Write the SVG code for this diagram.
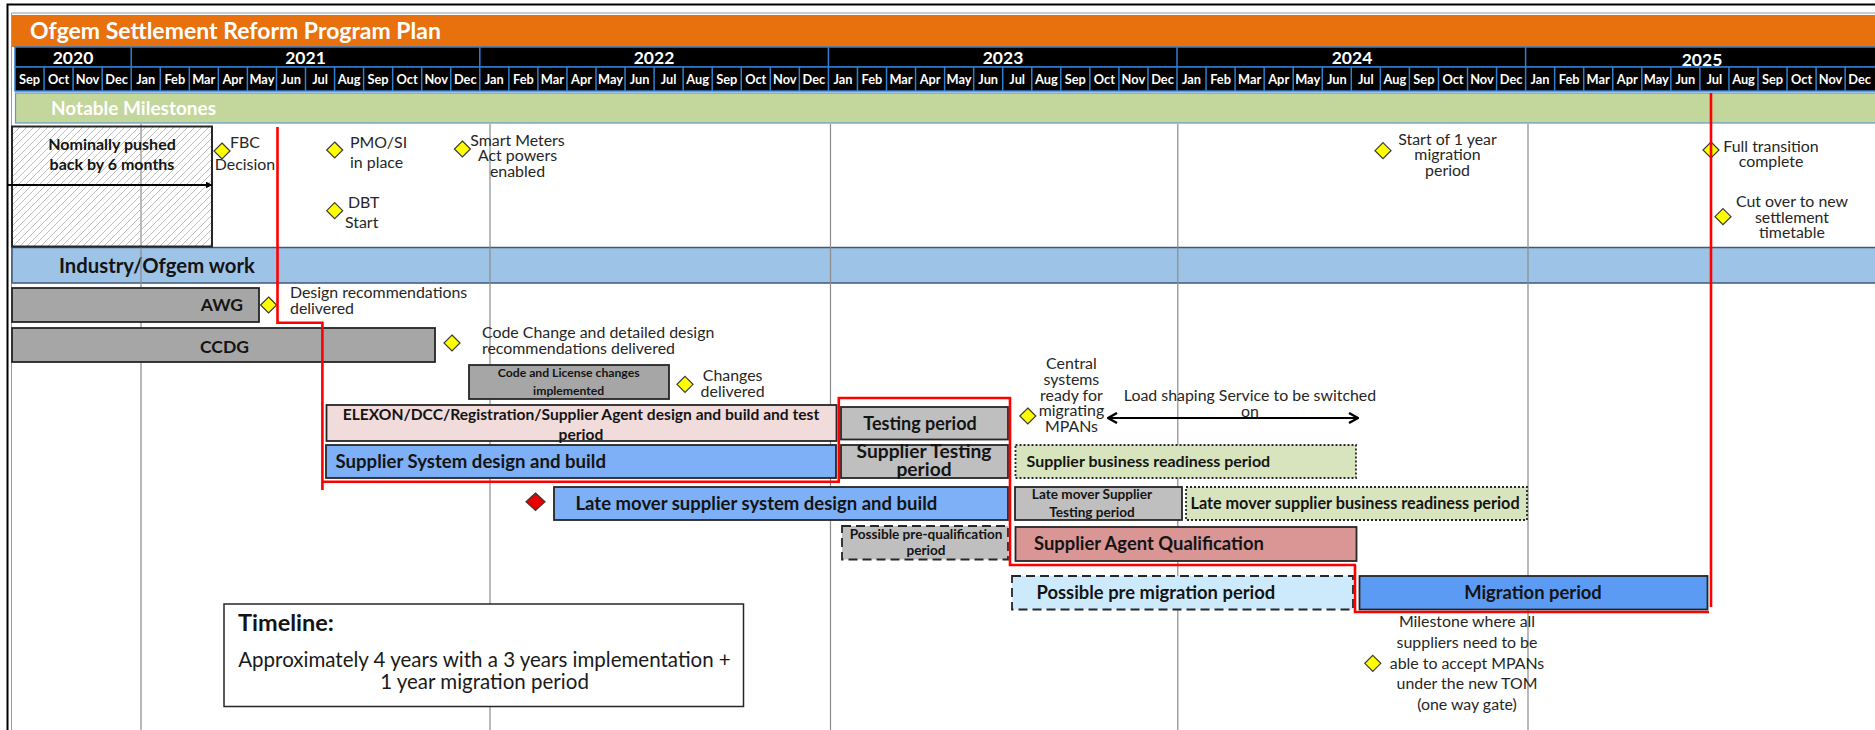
<svg xmlns="http://www.w3.org/2000/svg" width="1875" height="730" viewBox="0 0 1875 730">
<style>
text{font-family:Lato,"Liberation Sans",sans-serif;}
.hd{fill:#fff;font-weight:bold;}
.mo{fill:#fff;font-weight:bold;font-size:12.8px;text-anchor:middle;}
.yr{fill:#fff;font-weight:bold;font-size:17.5px;text-anchor:middle;}
.ms{fill:#262626;font-size:15.9px;}
.mid{text-anchor:middle;}
.b{font-weight:bold;fill:#141414;}
.bar{stroke:#262626;stroke-width:1.8;}
.g1{fill:#a6a6a6;}
.g2{fill:#bfbfbf;}
.blue{fill:#7eb0f7;}
.dia{fill:#ffff00;stroke:#3a3a3a;stroke-width:1.2;}
.grid{stroke:#8c8c8c;stroke-width:1.2;}
.red{fill:none;stroke:#ff0000;stroke-width:2.6;}
.dot{stroke-dasharray:2 2;}
.dash{stroke-dasharray:9 5;}
</style>
<defs>
<pattern id="hatch" patternUnits="userSpaceOnUse" width="7" height="7">
<path d="M-1,1 l2,-2 M0,7 l7,-7 M6,8 l2,-2" stroke="#b4b4b4" stroke-width="0.9"/>
</pattern>
<marker id="tri" viewBox="0 0 10 10" refX="9" refY="5" markerWidth="7" markerHeight="7" markerUnits="userSpaceOnUse" orient="auto">
<path d="M0,0 L10,5 L0,10 z" fill="#000"/>
</marker>
<marker id="chev" viewBox="0 0 12 12" refX="11" refY="6" markerWidth="12" markerHeight="12" markerUnits="userSpaceOnUse" orient="auto-start-reverse">
<path d="M2,1 L11,6 L2,11" fill="none" stroke="#000" stroke-width="2.4"/>
</marker>
</defs>
<rect width="1875" height="730" fill="#fff"/>

<!-- frame -->
<path d="M7.5,730 V4.5 H1875" fill="none" stroke="#000" stroke-width="2"/>
<path d="M11.5,730 V13 H1875" fill="none" stroke="#9a9a9a" stroke-width="1"/>

<!-- header -->
<g id="title">
<rect x="12" y="15" width="1863" height="32" fill="#e8710e"/>
<text class="hd" x="30" y="39" font-size="23">Ofgem Settlement Reform Program Plan</text>
</g>
<g id="years">
<rect x="15" y="47" width="1862" height="20" fill="#000" stroke="#2f7fd0" stroke-width="1.5"/>
<path d="M131.2,47v20 M479.8,47v20 M828.4,47v20 M1177,47v20 M1525.6,47v20" stroke="#2f7fd0" stroke-width="1.5"/>
<text class="yr" x="73" y="63.5">2020</text>
<text class="yr" x="305.5" y="63.5">2021</text>
<text class="yr" x="654" y="63.5">2022</text>
<text class="yr" x="1003" y="63.5">2023</text>
<text class="yr" x="1352" y="63.5">2024</text>
<text class="yr" x="1702" y="65.5">2025</text>
</g>
<g id="months">
<rect x="15" y="67" width="1862" height="24" fill="#000" stroke="#2f7fd0" stroke-width="1.5"/>
<path d="M44.05,67v24 M73.1,67v24 M102.15,67v24 M131.2,67v24 M160.25,67v24 M189.3,67v24 M218.35,67v24 M247.4,67v24 M276.45,67v24 M305.5,67v24 M334.55,67v24 M363.6,67v24 M392.65,67v24 M421.7,67v24 M450.75,67v24 M479.8,67v24 M508.85,67v24 M537.9,67v24 M566.95,67v24 M596,67v24 M625.05,67v24 M654.1,67v24 M683.15,67v24 M712.2,67v24 M741.25,67v24 M770.3,67v24 M799.35,67v24 M828.4,67v24 M857.45,67v24 M886.5,67v24 M915.55,67v24 M944.6,67v24 M973.65,67v24 M1002.7,67v24 M1031.75,67v24 M1060.8,67v24 M1089.85,67v24 M1118.9,67v24 M1147.95,67v24 M1177,67v24 M1206.05,67v24 M1235.1,67v24 M1264.15,67v24 M1293.2,67v24 M1322.25,67v24 M1351.3,67v24 M1380.35,67v24 M1409.4,67v24 M1438.45,67v24 M1467.5,67v24 M1496.55,67v24 M1525.6,67v24 M1554.65,67v24 M1583.7,67v24 M1612.75,67v24 M1641.8,67v24 M1670.85,67v24 M1699.9,67v24 M1728.95,67v24 M1758,67v24 M1787.05,67v24 M1816.1,67v24 M1845.15,67v24" stroke="#2f7fd0" stroke-width="1.5"/>
<text class="mo" x="29.5" y="84">Sep</text><text class="mo" x="58.6" y="84">Oct</text><text class="mo" x="87.6" y="84">Nov</text><text class="mo" x="116.7" y="84">Dec</text>
<text class="mo" x="145.7" y="84">Jan</text><text class="mo" x="174.8" y="84">Feb</text><text class="mo" x="203.8" y="84">Mar</text><text class="mo" x="232.9" y="84">Apr</text><text class="mo" x="261.9" y="84">May</text><text class="mo" x="291" y="84">Jun</text><text class="mo" x="320" y="84">Jul</text><text class="mo" x="349.1" y="84">Aug</text><text class="mo" x="378.1" y="84">Sep</text><text class="mo" x="407.2" y="84">Oct</text><text class="mo" x="436.2" y="84">Nov</text><text class="mo" x="465.3" y="84">Dec</text>
<text class="mo" x="494.3" y="84">Jan</text><text class="mo" x="523.4" y="84">Feb</text><text class="mo" x="552.4" y="84">Mar</text><text class="mo" x="581.5" y="84">Apr</text><text class="mo" x="610.5" y="84">May</text><text class="mo" x="639.6" y="84">Jun</text><text class="mo" x="668.6" y="84">Jul</text><text class="mo" x="697.7" y="84">Aug</text><text class="mo" x="726.7" y="84">Sep</text><text class="mo" x="755.8" y="84">Oct</text><text class="mo" x="784.8" y="84">Nov</text><text class="mo" x="813.9" y="84">Dec</text>
<text class="mo" x="842.9" y="84">Jan</text><text class="mo" x="872" y="84">Feb</text><text class="mo" x="901" y="84">Mar</text><text class="mo" x="930.1" y="84">Apr</text><text class="mo" x="959.1" y="84">May</text><text class="mo" x="988.2" y="84">Jun</text><text class="mo" x="1017.2" y="84">Jul</text><text class="mo" x="1046.3" y="84">Aug</text><text class="mo" x="1075.3" y="84">Sep</text><text class="mo" x="1104.4" y="84">Oct</text><text class="mo" x="1133.4" y="84">Nov</text><text class="mo" x="1162.5" y="84">Dec</text>
<text class="mo" x="1191.5" y="84">Jan</text><text class="mo" x="1220.6" y="84">Feb</text><text class="mo" x="1249.6" y="84">Mar</text><text class="mo" x="1278.7" y="84">Apr</text><text class="mo" x="1307.7" y="84">May</text><text class="mo" x="1336.8" y="84">Jun</text><text class="mo" x="1365.8" y="84">Jul</text><text class="mo" x="1394.9" y="84">Aug</text><text class="mo" x="1423.9" y="84">Sep</text><text class="mo" x="1453" y="84">Oct</text><text class="mo" x="1482" y="84">Nov</text><text class="mo" x="1511.1" y="84">Dec</text>
<text class="mo" x="1540.1" y="84">Jan</text><text class="mo" x="1569.2" y="84">Feb</text><text class="mo" x="1598.2" y="84">Mar</text><text class="mo" x="1627.3" y="84">Apr</text><text class="mo" x="1656.3" y="84">May</text><text class="mo" x="1685.4" y="84">Jun</text><text class="mo" x="1714.4" y="84">Jul</text><text class="mo" x="1743.5" y="84">Aug</text><text class="mo" x="1772.5" y="84">Sep</text><text class="mo" x="1801.6" y="84">Oct</text><text class="mo" x="1830.6" y="84">Nov</text><text class="mo" x="1859.7" y="84">Dec</text>
</g>
<g id="notable-milestones">
<rect x="15.5" y="93" width="1862" height="30" fill="#c3d69b" stroke="#5b9bd5" stroke-width="1.2"/>
<text class="hd" x="51" y="114.5" font-size="19">Notable Milestones</text>
</g>
<g id="industry-band">
<rect x="12" y="247.5" width="1865" height="35.5" fill="#9dc3e6" stroke="#41587a" stroke-width="1.5"/>
<text class="b" x="59" y="273" font-size="20.3" fill="#1a1a1a">Industry/Ofgem work</text>
</g>

<!-- grid lines -->
<g id="gridlines">
<path class="grid" d="M141,124V730 M490,124V730 M830.5,124V730 M1177.8,124V730 M1528,124V730"/>
</g>

<!-- nodes -->
<g id="pushed-back">
<rect x="12" y="126.5" width="200" height="120" fill="url(#hatch)" stroke="#262626" stroke-width="2"/>
<text class="b mid" x="112" y="149.5" font-size="16">Nominally pushed</text>
<text class="b mid" x="112" y="169.5" font-size="16">back by 6 months</text>
</g>
<g id="ms-fbc">
<path class="dia" d="M222,143 l8,8 l-8,8 l-8,-8z"/>
<text class="ms mid" x="245" y="148">FBC</text>
<text class="ms mid" x="245" y="170">Decision</text>
</g>
<g id="ms-pmo">
<path class="dia" d="M334.7,142 l8,8 l-8,8 l-8,-8z"/>
<text class="ms" x="350" y="148">PMO/SI</text>
<text class="ms" x="350" y="168">in place</text>
</g>
<g id="ms-dbt">
<path class="dia" d="M334.7,202.7 l8,8 l-8,8 l-8,-8z"/>
<text class="ms" x="348" y="208">DBT</text>
<text class="ms" x="345" y="228">Start</text>
</g>
<g id="ms-smart">
<path class="dia" d="M462.4,141 l8,8 l-8,8 l-8,-8z"/>
<text class="ms mid" x="517.5" y="145.5">Smart Meters</text>
<text class="ms mid" x="517.5" y="161">Act powers</text>
<text class="ms mid" x="517.5" y="176.5">enabled</text>
</g>
<g id="ms-start-migration">
<path class="dia" d="M1383,142.7 l8,8 l-8,8 l-8,-8z"/>
<text class="ms mid" x="1447.5" y="144.5">Start of 1 year</text>
<text class="ms mid" x="1447.5" y="160">migration</text>
<text class="ms mid" x="1447.5" y="175.5">period</text>
</g>
<g id="ms-full-transition">
<path class="dia" d="M1711,142 l8,8 l-8,8 l-8,-8z"/>
<text class="ms mid" x="1771" y="151.5">Full transition</text>
<text class="ms mid" x="1771" y="167">complete</text>
</g>
<g id="ms-cutover">
<path class="dia" d="M1723,208.7 l8,8 l-8,8 l-8,-8z"/>
<text class="ms mid" x="1792" y="206.5">Cut over to new</text>
<text class="ms mid" x="1792" y="222.5">settlement</text>
<text class="ms mid" x="1792" y="238">timetable</text>
</g>
<g id="awg">
<rect class="bar g1" x="12" y="288" width="247" height="34"/>
<text class="b" x="243" y="311" font-size="17.5" text-anchor="end">AWG</text>
</g>
<g id="ms-design-rec">
<path class="dia" d="M268.6,297 l8,8 l-8,8 l-8,-8z"/>
<text class="ms" x="290" y="298">Design recommendations</text>
<text class="ms" x="290" y="313.5">delivered</text>
</g>
<g id="ccdg">
<rect class="bar g1" x="12" y="328" width="423" height="34"/>
<text class="b mid" x="224.5" y="352.5" font-size="17.5">CCDG</text>
</g>
<g id="ms-code-change">
<path class="dia" d="M452,335 l8,8 l-8,8 l-8,-8z"/>
<text class="ms" x="482" y="338">Code Change and detailed design</text>
<text class="ms" x="482" y="353.5">recommendations delivered</text>
</g>
<g id="code-license">
<rect class="bar g1" x="469" y="365" width="200" height="34"/>
<text class="b mid" x="568.7" y="377" font-size="12.2">Code and License changes</text>
<text class="b mid" x="568.7" y="395" font-size="12.2">implemented</text>
</g>
<g id="ms-changes">
<path class="dia" d="M685,376.3 l8,8 l-8,8 l-8,-8z"/>
<text class="ms mid" x="732.6" y="381">Changes</text>
<text class="ms mid" x="732.6" y="396.5">delivered</text>
</g>
<g id="elexon">
<rect class="bar" x="326.5" y="405" width="510" height="36" fill="#f2dcdb"/>
<text class="b mid" x="581" y="419.5" font-size="15.6">ELEXON/DCC/Registration/Supplier Agent  design and build and test</text>
<text class="b mid" x="581" y="439.5" font-size="15.6">period</text>
</g>
<g id="testing">
<rect class="bar g2" x="841" y="407" width="167" height="32.5"/>
<text class="b mid" x="920" y="430" font-size="18">Testing period</text>
</g>
<g id="ms-central">
<path class="dia" d="M1027.8,408 l8,8 l-8,8 l-8,-8z"/>
<text class="ms mid" x="1071.4" y="369">Central</text>
<text class="ms mid" x="1071.4" y="385">systems</text>
<text class="ms mid" x="1071.4" y="400.5">ready for</text>
<text class="ms mid" x="1071.4" y="416">migrating</text>
<text class="ms mid" x="1071.4" y="431.5">MPANs</text>
</g>
<g id="load-shaping">
<text class="ms mid" x="1250" y="401">Load shaping Service to be switched</text>
<text class="ms mid" x="1250" y="416.5">on</text>
</g>
<g id="supplier-system">
<rect class="bar blue" x="326" y="445" width="510" height="33"/>
<text class="b" x="335.5" y="468" font-size="18.6">Supplier System design and build</text>
</g>
<g id="supplier-testing">
<rect class="bar g2" x="841" y="445" width="167" height="33"/>
<text class="b mid" x="924" y="458" font-size="19.2">Supplier Testing</text>
<text class="b mid" x="924" y="476" font-size="19.2">period</text>
</g>
<g id="supplier-readiness">
<rect class="bar dot" x="1015.5" y="445" width="340.5" height="33" fill="#d7e4bd"/>
<text class="b" x="1026.5" y="467" font-size="16">Supplier business readiness period</text>
</g>
<g id="ms-late-mover">
<path d="M535.5,493 l9.5,8.7 l-9.5,8.7 l-9.5,-8.7z" fill="#e80000" stroke="#3a3a3a" stroke-width="1.2"/>
</g>
<g id="late-mover-build">
<rect class="bar blue" x="554" y="487" width="454" height="33"/>
<text class="b" x="575.5" y="509.5" font-size="18.5">Late mover supplier system design and build</text>
</g>
<g id="late-mover-testing">
<rect class="bar g2" x="1015" y="487" width="167" height="33"/>
<text class="b mid" x="1092" y="499" font-size="13.6">Late mover Supplier</text>
<text class="b mid" x="1092" y="517" font-size="13.6">Testing period</text>
</g>
<g id="late-mover-readiness">
<rect class="bar dot" x="1186" y="487" width="341" height="33" fill="#d7e4bd"/>
<text class="b" x="1190.5" y="508.5" font-size="16.2">Late mover supplier business readiness period</text>
</g>
<g id="pre-qualification">
<rect class="bar dash g2" x="842" y="526" width="166" height="33.5"/>
<text class="b mid" x="926" y="538.5" font-size="13.6">Possible pre-qualification</text>
<text class="b mid" x="926" y="555" font-size="13.6">period</text>
</g>
<g id="agent-qualification">
<rect class="bar" x="1015.5" y="527" width="341" height="34" fill="#d99694"/>
<text class="b" x="1034" y="550" font-size="18.4">Supplier Agent Qualification</text>
</g>
<g id="pre-migration">
<rect class="bar dash" x="1012" y="576" width="341" height="33.5" fill="#cdeafc"/>
<text class="b" x="1036.5" y="599" font-size="18.4">Possible pre migration period</text>
</g>
<g id="migration">
<rect class="bar" x="1359.5" y="576" width="348" height="33.5" fill="#5b9bf4"/>
<text class="b mid" x="1533" y="599" font-size="18.4">Migration period</text>
</g>
<g id="ms-one-way-gate">
<path class="dia" d="M1372.8,655.3 l8,8 l-8,8 l-8,-8z"/>
<text class="ms mid" x="1467" y="627">Milestone where all</text>
<text class="ms mid" x="1467" y="647.5">suppliers need to be</text>
<text class="ms mid" x="1467" y="668.5">able to accept MPANs</text>
<text class="ms mid" x="1467" y="689">under the new TOM</text>
<text class="ms mid" x="1467" y="710">(one way gate)</text>
</g>
<g id="timeline-note">
<rect x="224" y="604" width="519.5" height="102.5" fill="#fff" stroke="#262626" stroke-width="1.5"/>
<text class="b" x="238" y="631" font-size="23.5">Timeline:</text>
<text class="mid" x="484.5" y="666.5" font-size="20.5" fill="#1a1a1a">Approximately 4 years with a 3 years implementation +</text>
<text class="mid" x="484.5" y="688.5" font-size="20.5" fill="#1a1a1a">1 year migration period</text>
</g>

<!-- connectors -->
<g id="connectors">
<path d="M8,185 H212" stroke="#000" stroke-width="2" marker-end="url(#tri)"/>
<path d="M1108,418 H1358" stroke="#000" stroke-width="2" marker-start="url(#chev)" marker-end="url(#chev)"/>
<path class="red" d="M277.5,127 V322.7 H322.4 V490"/>
<path class="red" d="M322.4,481.7 H838.8 V398 H1010 V565 H1356"/>
<path class="red" d="M1355,565 V612 H1709"/>
<path class="red" d="M1711,93 V607"/>
</g>
</svg>
